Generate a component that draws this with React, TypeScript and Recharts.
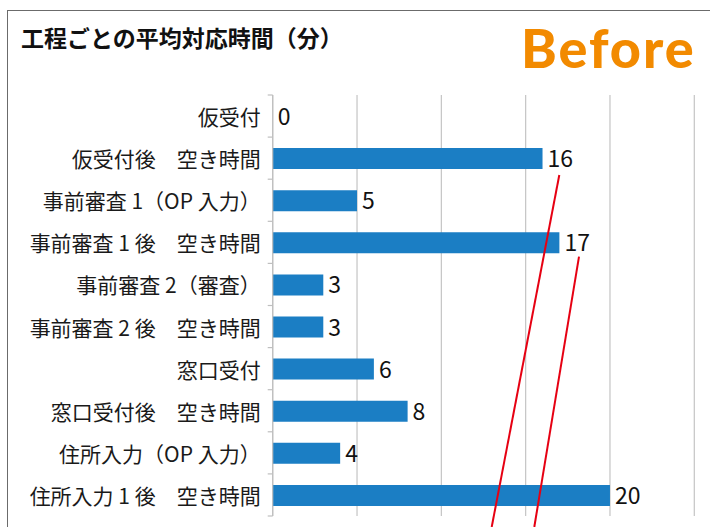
import React from 'react';
import { ComposedChart, Bar, Line, XAxis, YAxis, CartesianGrid, LabelList } from 'recharts';

const categories = [
  '仮受付',
  '仮受付後　空き時間',
  '事前審査 1（OP 入力）',
  '事前審査 1 後　空き時間',
  '事前審査 2（審査）',
  '事前審査 2 後　空き時間',
  '窓口受付',
  '窓口受付後　空き時間',
  '住所入力（OP 入力）',
  '住所入力 1 後　空き時間',
];
const values = [0, 16, 5, 17, 3, 3, 6, 8, 4, 20];
const xTicks = [0, 5, 10, 15, 20, 25];

const data = categories.map((name, i) => ({ name, value: values[i] }));

const W = 710;
const H = 527;
const M = { top: 95, right: 15.7, bottom: 11, left: 0 };
const AXIS_W = 272.7;
const BAND = (H - M.top - M.bottom) / categories.length;
const JP = '"Noto Sans CJK JP", "Noto Sans", sans-serif';

const YTick = (props: any) => {
  const { x, y, payload, index } = props;
  const last = index === categories.length - 1;
  return (
    <g>
      <text x={x - 12} y={y} textAnchor="end" dominantBaseline="central" fontSize={21} fill="#1a1a1a" fontFamily={JP}>
        {payload.value}
      </text>
      <line x1={x - 5} x2={x} y1={y - BAND / 2} y2={y - BAND / 2} stroke="#bfbfbf" strokeWidth={1.2} />
      {last && <line x1={x - 5} x2={x} y1={y + BAND / 2} y2={y + BAND / 2} stroke="#bfbfbf" strokeWidth={1.2} />}
    </g>
  );
};

const ValueLabel = (props: any) => {
  const { x, y, value } = props;
  return (
    <text x={Number(x) + 5} y={Number(y) - 1} dominantBaseline="central" fontSize={23} fill="#111" fontFamily={JP}>
      {value}
    </text>
  );
};

export default function App() {
  return (
    <div style={{ position: 'absolute', left: 0, top: 0, width: W, height: H, overflow: 'hidden', background: '#fff' }}>
      <div style={{ position: 'absolute', left: 7, top: 10, width: 800, height: 600, borderTop: '1.5px solid #6b6b6b', borderLeft: '1.5px solid #6b6b6b' }} />
      <ComposedChart width={W} height={H} data={data} layout="vertical" margin={M}>
        <CartesianGrid horizontal={false} stroke="#c4c4c4" strokeWidth={1.2} />
        <XAxis type="number" domain={[0, 25]} ticks={xTicks} hide />
        <YAxis
          type="category"
          dataKey="name"
          width={AXIS_W}
          tickLine={false}
          tickSize={0}
          tickMargin={0}
          axisLine={{ stroke: '#bfbfbf', strokeWidth: 1.2 }}
          tick={<YTick />}
          interval={0}
        />
        <Bar dataKey="value" fill="#1b7ec4" isAnimationActive={false} barSize={21} />
        <Line dataKey="value" stroke="none" dot={false} activeDot={false} isAnimationActive={false} legendType="none">
          <LabelList dataKey="value" content={<ValueLabel />} />
        </Line>
      </ComposedChart>
      <div style={{ position: 'absolute', left: 21, top: 23, fontSize: 23, fontWeight: 700, fontFamily: JP, color: '#111', whiteSpace: 'nowrap', lineHeight: 1.3 }}>
        工程ごとの平均対応時間（分）
      </div>
      <div style={{ position: 'absolute', left: 521, top: 16, fontSize: 54, fontWeight: 900, fontFamily: 'Lato, sans-serif', color: '#f28a00', whiteSpace: 'nowrap', lineHeight: 1.2, letterSpacing: 2 }}>
        Before
      </div>
      <svg width={W} height={H} style={{ position: 'absolute', left: 0, top: 0, pointerEvents: 'none' }}>
        <line x1={559.3} y1={175} x2={491.7} y2={527} stroke="#e60012" strokeWidth={2} />
        <line x1={579} y1={256.7} x2={534.3} y2={527} stroke="#e60012" strokeWidth={2} />
      </svg>
    </div>
  );
}
